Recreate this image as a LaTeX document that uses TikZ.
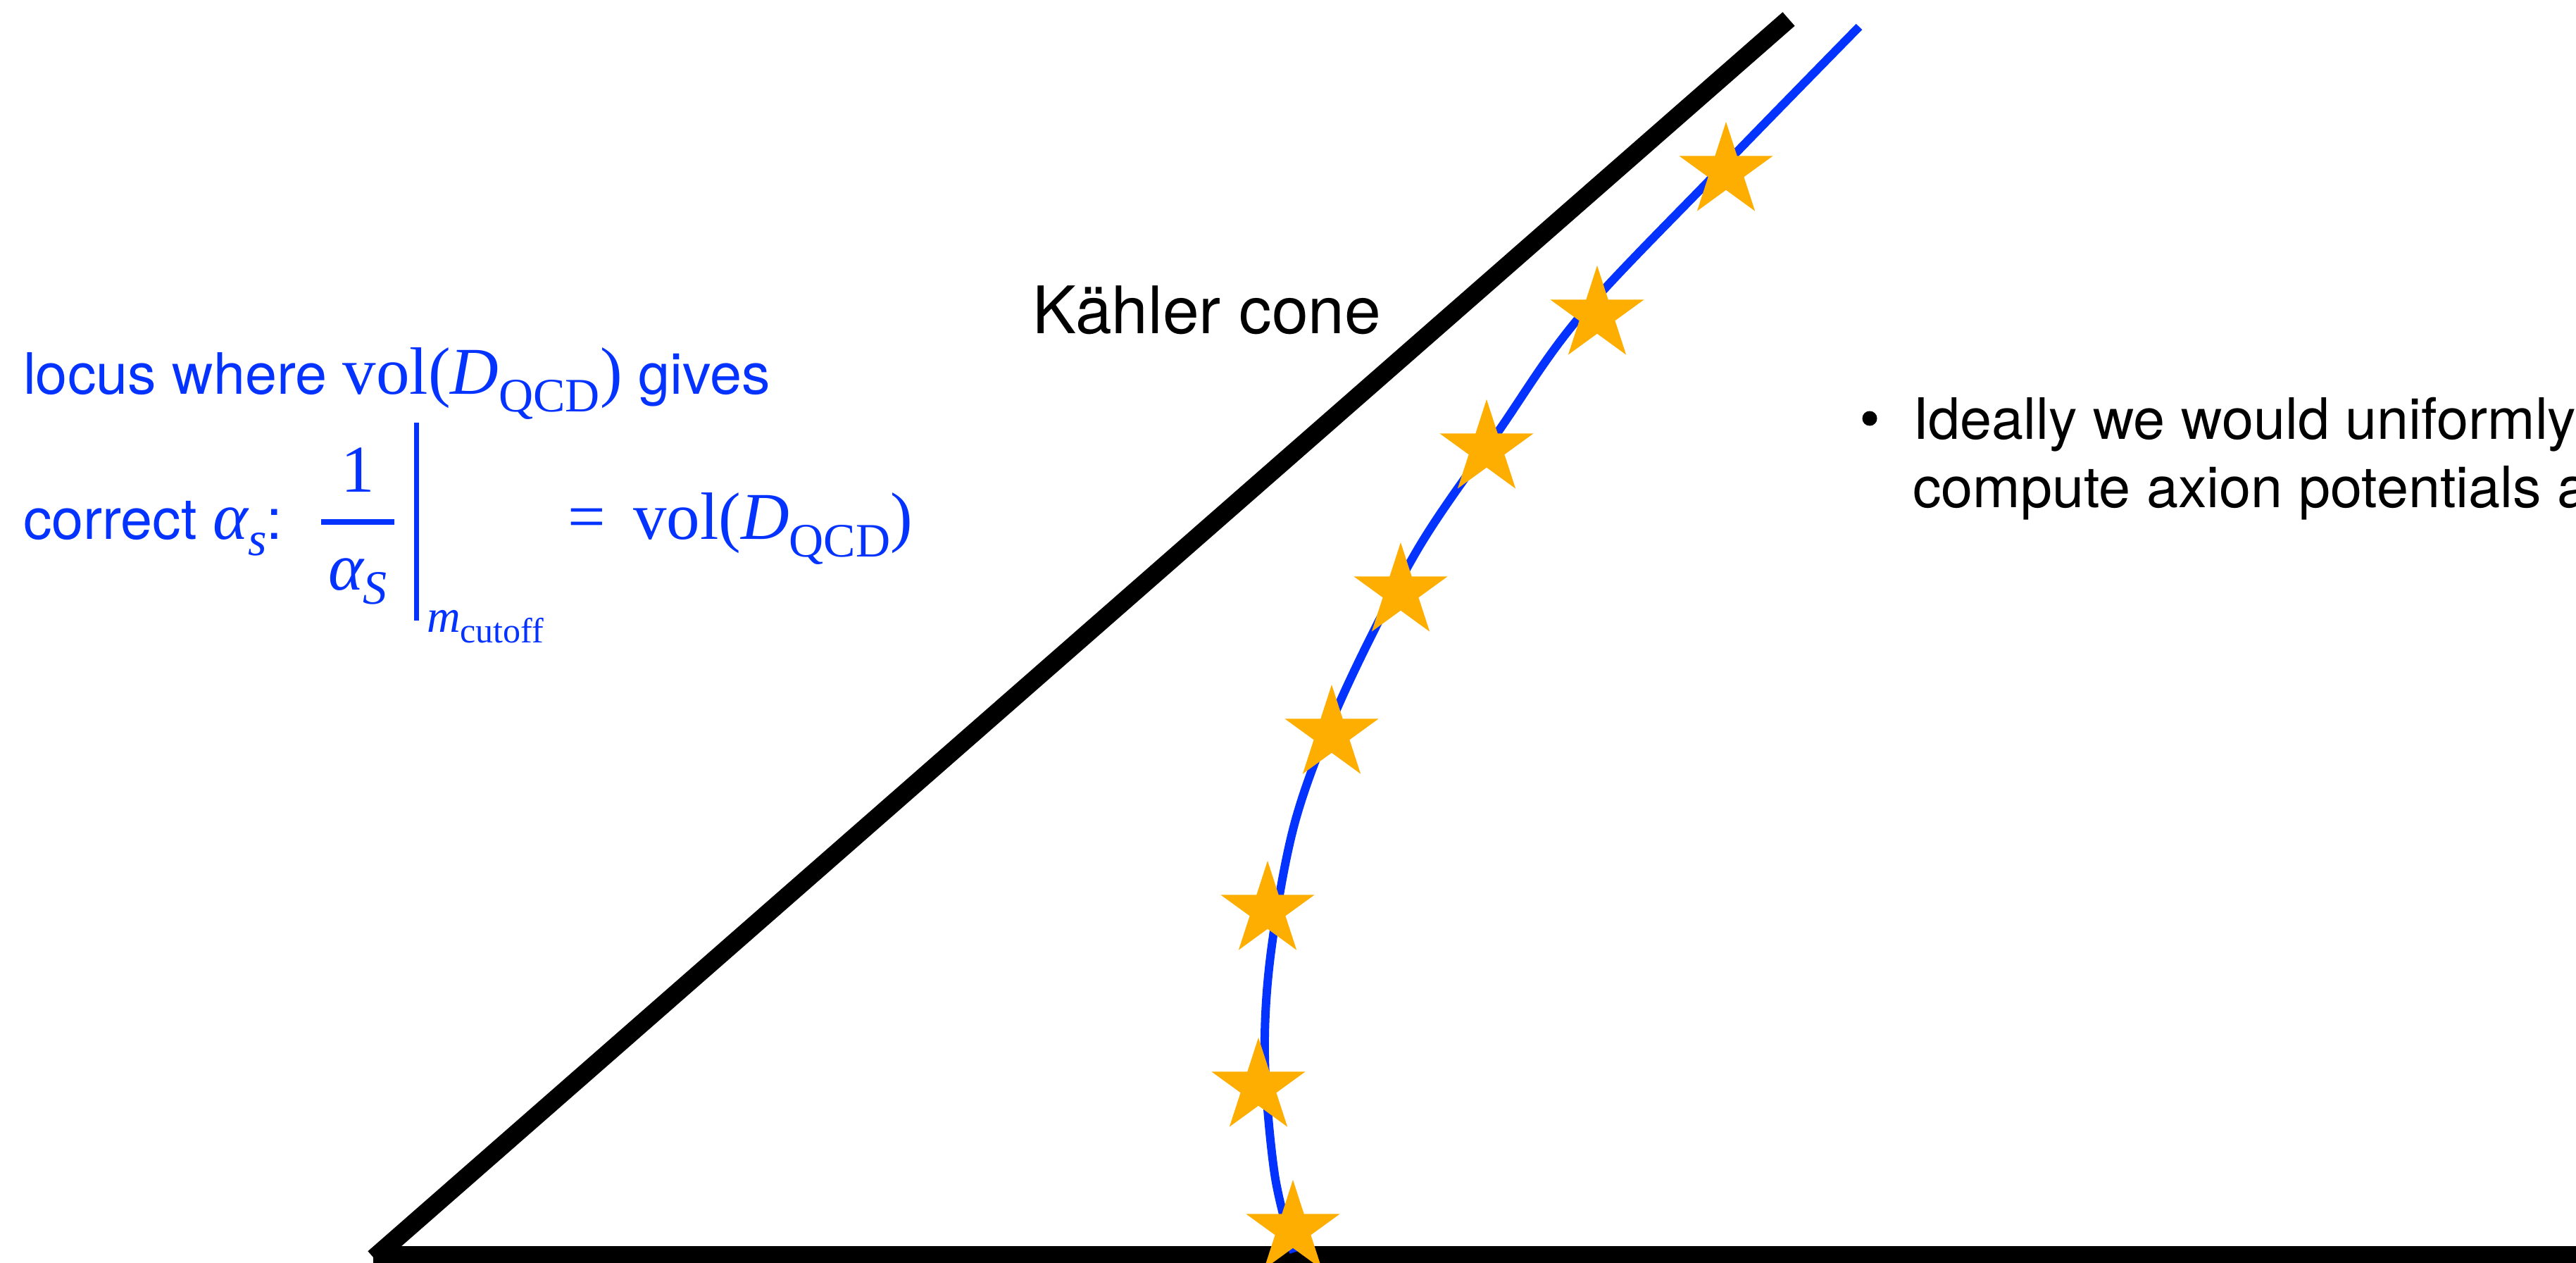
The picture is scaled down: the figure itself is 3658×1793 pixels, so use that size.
\documentclass[tikz,border=0pt]{standalone}
\usepackage{fontspec}
\setmainfont{TeX Gyre Heros}
\newfontfamily\timesf{Liberation Serif}
\definecolor{kblue}{RGB}{4,51,255}
\definecolor{korange}{RGB}{254,174,0}
\newcommand\mfont{\timesf\fontsize{47.5}{57}\selectfont}
\newcommand\subfont{\timesf\fontsize{34}{40}\selectfont}
\newcommand\ssubfont{\timesf\fontsize{25}{30}\selectfont}
\newcommand\tfont{\fontsize{40.5}{48}\selectfont}
\begin{document}
\begin{tikzpicture}[x=0.5pt,y=-0.5pt,
  bluetxt/.style={inner sep=0pt, outer sep=0pt, anchor=base west, text=kblue, font=\tfont},
  blacktxt/.style={inner sep=0pt, outer sep=0pt, anchor=base west, text=black, font=\tfont},
  coneline/.style={line width=13pt, black},
  locus/.style={line width=6pt, kblue},
  starfill/.style={fill=korange}]
\fill[white] (0,0) rectangle (3658,1793);
\useasboundingbox (0,0) rectangle (3658,1793);

% cone
\coordinate (O) at (531,1786);
\coordinate (T) at (2540,27);
\coordinate (Ob) at (530,1782);
\coordinate (R) at (3700,1782);
\draw[coneline] (O) -- (T);
\draw[coneline] (Ob) -- (R);

% locus curve
\draw[locus] plot[smooth, tension=0.55] coordinates {(2640,38) (2440,243) (2243,450) (2128,612) (2013,780) (1907,987) (1840,1163) (1805,1350) (1796,1500) (1810,1667) (1837,1778)};

% stars
\foreach \sx/\sy in {2451/243, 2268/447, 2111/637, 1989/840, 1891/1042, 1800/1292, 1787/1543, 1836/1745}{
  \fill[starfill] (\sx,\sy) +(-90:70) -- +(-54:26.7) -- +(-18:70) -- +(18:26.7) -- +(54:70) -- +(90:26.7) -- +(126:70) -- +(162:26.7) -- +(198:70) -- +(234:26.7) -- cycle;
}

% Kahler cone label
\node[blacktxt, font=\fontsize{46.5}{56}\selectfont] (kc) at (1466,473) {Kähler cone};

% blue annotation
\node[bluetxt] (line1) at (33,559) {locus where {\mfont vol(\textit{D}}\raisebox{-12.5pt}{\subfont QCD}{\mfont)} gives};
\node[bluetxt] (line2) at (33,765) {correct {\mfont\itshape α}\raisebox{-11.5pt}{\subfont\itshape s}:};
\node[bluetxt, anchor=base, font=\mfont] (num) at (508,698) {1};
\draw[kblue, line width=4pt] (456,741) -- (560,741);
\node[bluetxt] (den) at (466,837) {{\mfont\itshape α}\raisebox{-10pt}{\subfont\itshape S}};
\draw[kblue, line width=3.5pt] (591.5,600) -- (591.5,881);
\node[bluetxt] (mc) at (606,897) {{\timesf\fontsize{33}{40}\selectfont\itshape m}\raisebox{-7.5pt}{\ssubfont cutoff}};
\node[bluetxt, font=\mfont] (eq) at (806,765) {=};
\node[bluetxt] (rhs) at (899,765) {{\mfont vol(\textit{D}}\raisebox{-12.5pt}{\subfont QCD}{\mfont)}};

% bullet text
\node[circle, fill=black, minimum size=10.5pt, inner sep=0pt] (bul) at (2655,594) {};
\node[blacktxt] (bl1) at (2716,623) {Ideally we would uniformly};
\node[blacktxt] (bl2) at (2716,720) {compute axion potentials a};
\end{tikzpicture}
\end{document}
